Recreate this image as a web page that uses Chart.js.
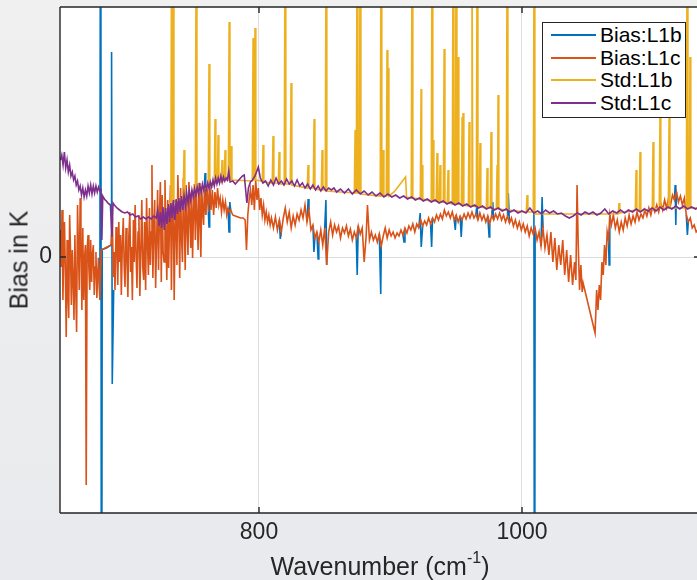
<!DOCTYPE html>
<html>
<head>
<meta charset="utf-8">
<script src="https://cdn.jsdelivr.net/npm/chart.js@4.4.1/dist/chart.umd.min.js"></script>
<style>
  html, body { margin:0; padding:0; }
  body { width:697px; height:580px; overflow:hidden; background: linear-gradient(#f0f0f0, #e9eaed); font-family: "Liberation Sans", Arial, sans-serif; }
  #wrap { position:relative; width:700px; height:580px; }
  #c { position:absolute; left:0; top:0; }
  #ylabel { position:absolute; left:19px; top:260px; transform: translate(-50%,-50%) rotate(-90deg); white-space:nowrap; font-size:25px; line-height:25px; color:#262626; }
  #xlabel { position:absolute; left:60px; width:640px; top:554px; text-align:center; font-size:25px; line-height:25px; color:#262626; white-space:nowrap; }
  #xlabel sup { font-size:16px; line-height:0; vertical-align:12px; }
  #legend { position:absolute; left:542px; top:22px; width:144px; height:96px; box-sizing:border-box; border:1px solid #262626; background:#fff; }
  .row { position:absolute; left:0; height:22px; width:142px; }
  .row .ln { position:absolute; left:8px; top:10px; width:45px; height:2px; }
  .row .tx { position:absolute; left:57px; top:0; line-height:22px; font-size:21px; color:#000; white-space:nowrap; }
</style>
</head>
<body>
<div id="wrap">
  <canvas id="c" width="700" height="580"></canvas>
  <div id="ylabel">Bias in K</div>
  <div id="xlabel">Wavenumber (cm<sup>-1</sup>)</div>
  <div id="legend"></div>
</div>
<script>
// ---------------- data (wavenumber in cm-1, values in K) ----------------
const xTicks = [800, 1000];
const yTicks = [0];
const xRange = [648.67, 1135.4];
const yRange = [-2.56, 2.5];

const seriesLabels = ["Bias:L1b", "Bias:L1c", "Std:L1b", "Std:L1c"];
const seriesColors = ["#0072BD", "#D95319", "#EDB120", "#7E2F8E"];

// Bias:L1b (visible only where it departs from Bias:L1c; null = break)
const biasL1bWn = [678,679,679.6,680.2,680.8,684,687.5,687.9,688.4,689.5,700,
  758.5,759,759.5,760,761.5,762,762.5,763,776.5,777.2,777.8,778.5,779,
  815.5,816.2,817,818,836.5,837.4,838,839,841,841.8,842.5,843,844,845,845.5,846,
  850,850.9,851.5,852,874,874.7,875.5,876,891.5,892.6,893,894,909.5,910.3,911,912,
  921.5,922.6,923.4,924.5,925,930.5,931.3,932,933,948.5,949.3,950,951,953,953.8,954.5,955,
  965,965.8,966.5,967,974,975,975.5,976,977,977.8,978.5,979,989,989.6,990.5,991,
  1008.5,1009.1,1009.6,1010,1011,1014.5,1015.3,1016,1017,1065.8,1066.3,1066.8,1067,
  1116,1116.5,1117,1117.5,1118,1125,1125.8,1126.5];
const biasL1bVal = [-0.01,-0.43,6.0,-6.0,0.075,0.09,0.12,2.05,-1.27,-0.33,null,
  0.72,0.84,0.42,null,0.45,0.30,0.74,null,0.49,0.25,0.55,0.47,null,
  0.37,0.18,0.25,null,0.35,0.58,0.47,null,0.32,0.05,0.19,null,0.25,-0.02,0.15,null,
  0.29,0.57,-0.08,null,0.19,-0.18,0.31,null,0.23,-0.37,0.11,null,0.22,0.15,0.29,null,
  0.29,0.44,0.10,0.31,null,0.33,0.10,0.39,null,0.37,0.27,0.42,null,0.41,0.20,0.37,null,
  0.43,0.52,0.37,null,0.41,0.20,0.33,null,0.42,0.55,0.37,null,0.41,0.64,0.34,null,
  0.23,0.44,-6.0,0.29,null,0.11,0.60,0.29,null,0.17,-0.08,0.42,null,
  0.57,0.72,0.32,0.65,null,0.42,0.22,0.35];

// Bias:L1c
const biasL1cWn = [649,649.6,650.2,650.9,651.5,652.1,652.8,653.4,654.1,654.7,655.3,656,656.6,657.3,658,658.6,659.3,660,
  660.6,661.3,662,662.6,663.3,664,664.6,665.3,666,666.7,667.4,668,668.6,669.3,670,670.6,671.3,672,672.7,673.3,674,
  674.7,675.4,676,676.7,677.4,678,679,680,687.5,
  688.5,689.2,689.8,690.5,691.3,692,692.6,693.4,694,694.7,695.3,696.1,696.8,697.5,698.1,698.9,699.6,700.3,701,701.8,
  702.4,703,703.7,704.5,705.1,705.8,706.5,707.2,708,708.7,709.4,710.2,710.9,711.6,712.3,713,713.8,714.5,715.2,715.9,
  716.7,717.4,718.1,718.6,719.3,720,720.7,721.4,722.2,722.9,723.6,724.3,725,725.7,726.4,727.1,727.8,728.5,729.2,729.9,
  730.6,731.3,732,732.7,733.4,734.1,734.8,735.5,736.2,736.9,737.6,738.3,739,739.7,740.4,741.1,741.8,742.5,743.2,743.9,
  744.6,745.3,746,746.7,747.4,748.1,748.8,749.5,750.2,750.9,751.6,752.3,753,753.7,754.4,755.1,755.8,756.5,757.2,757.9,
  758.5,759.5,760.5,761.5,762.5,763.5,764.5,765.5,766.5,767.5,768.5,769.5,
  770.5,771.5,772.5,773.5,774.5,775.5,776.5,777.5,778.5,780,782,784,786,788,789.5,790.5,791.5,792.5,793.5,794.5,
  795.5,796.5,797.5,798.5,799.5,800.5,801.5,802.5,803.5,804.5,805.5,806.5,807.5,808.5,809.5,811,812.5,814,815.5,
  817,818.5,820,821.5,823,824.5,826,827.5,829,830.5,832,833.5,835,836.5,838,839.5,841,842.5,844,845.5,847,848.5,
  850,851.5,853,854.5,856,857.5,859,860.5,862,863.5,865,866.5,868,869.5,871,872.5,874,875.5,877,878.5,880,881.5,
  882.5,884,885.5,887,888.5,890,891.5,893,894.5,896,897.5,899,900.5,902,903.5,905,906.5,908,909.5,911,912.5,914,
  915.5,917,918.5,920,921.5,923,924.5,926,927.5,929,930.5,932,933.5,935,936.5,938,939.5,941,942.5,944,945.5,947,
  948.5,950,951.5,953,954.5,956,957.5,959,960.5,962,963.5,965,966.5,968,969.5,971,972.5,974,975.5,977,978.5,980,
  981.5,983,984.5,986,987.5,989,990.5,992,993.5,995,996.5,998,999.5,1001,1002.5,1004,1005.5,1007,1008.5,1010,
  1011.5,1013,1014.5,1016,1017.5,1019,1020.5,1022,1023.5,1025,1026.5,1028,1029.5,1031,1032.5,1034,1035.5,1037,
  1038.5,1040,1041,1041.9,1042.8,1043.8,1044.8,1045.8,1046.5,1055.6,1056.8,1057.8,1058.8,1059.8,1060.8,1061.8,
  1062.8,1063.8,1064.8,1065.8,1066.8,1068,1069.5,1071,1072.5,1074,1075.5,1077,1078.5,1080,1081.5,1083,1084.5,
  1086,1087.5,1089,1090.5,1092,1093.5,1095,1096.5,1098,1099.5,1101,1102.5,1104,1105.5,1107,1108.5,1110,1111.5,
  1113,1114.5,1116,1117.5,1119,1120.5,1122,1123.5,1125,1126.5,1128,1129.5,1131,1132.5,1134];
const biasL1cVal = [0.27,-0.10,0.47,-0.43,0.05,0.35,-0.20,-0.80,0.17,-0.35,-0.61,0.42,0.10,-0.48,0.07,-0.20,-0.63,0.22,
  -0.30,-0.75,0.52,0.15,-0.33,0.59,0.20,-0.53,0.29,-0.43,0.00,0.12,-2.28,0.07,0.22,-0.10,-0.33,0.17,-0.25,0.02,0.12,
  -0.38,-0.10,0.05,-0.41,-0.15,-0.01,-0.43,0.07,0.12,
  0.39,-0.20,0.05,-0.33,0.30,0.10,-0.28,0.35,-0.05,0.22,-0.38,0.15,0.39,-0.10,-0.30,0.29,0.00,-0.40,0.20,0.45,
  -0.15,0.10,-0.43,0.37,-0.05,0.52,0.05,-0.31,0.25,0.42,-0.39,0.10,0.57,-0.10,-0.23,0.35,-0.33,0.59,0.15,-0.18,
  0.49,-0.08,0.25,0.92,-0.21,0.30,0.57,-0.31,0.20,0.67,-0.13,0.40,0.75,-0.25,0.62,0.05,-0.05,0.77,0.20,-0.23,
  0.57,-0.11,0.35,0.72,-0.33,0.45,0.62,-0.43,0.30,0.52,-0.08,0.82,0.40,-0.21,0.69,0.20,-0.05,0.79,0.35,-0.13,
  0.72,0.30,0.02,0.75,0.40,0.09,0.67,-0.01,0.45,0.73,0.17,0.71,0.40,0.07,0.74,0.35,0.00,0.67,0.45,0.32,
  0.72,0.42,0.69,0.45,0.74,0.47,0.67,0.42,0.65,0.49,0.69,0.52,
  0.59,0.45,0.57,0.47,0.55,0.42,0.49,0.45,0.47,0.42,0.41,0.40,0.39,0.39,0.37,0.07,0.42,0.57,0.67,0.52,
  0.72,0.47,0.77,0.57,0.69,0.47,0.59,0.42,0.52,0.37,0.45,0.35,0.42,0.32,0.39,0.29,0.40,0.27,0.37,
  0.25,0.39,0.49,0.35,0.45,0.29,0.41,0.32,0.43,0.37,0.47,0.39,0.52,0.35,0.47,0.27,0.32,0.19,0.25,0.15,0.27,0.12,
  0.29,-0.08,0.25,0.35,0.22,0.32,0.25,0.31,0.19,0.29,0.24,0.31,0.21,0.28,0.17,0.25,0.19,0.31,0.23,0.29,-0.05,0.21,
  0.52,0.17,0.25,0.17,0.22,0.15,0.23,0.11,0.21,0.29,0.19,0.27,0.21,0.25,0.19,0.24,0.21,0.27,0.22,0.29,0.24,0.31,
  0.27,0.33,0.25,0.33,0.29,0.37,0.31,0.36,0.32,0.39,0.33,0.39,0.35,0.42,0.37,0.43,0.38,0.47,0.41,0.45,0.39,0.45,
  0.37,0.42,0.35,0.41,0.37,0.43,0.38,0.44,0.39,0.45,0.39,0.43,0.37,0.44,0.37,0.42,0.35,0.41,0.33,0.42,0.37,0.43,
  0.38,0.44,0.37,0.42,0.35,0.41,0.34,0.39,0.31,0.37,0.29,0.35,0.27,0.33,0.25,0.31,0.21,0.29,0.23,0.29,
  0.17,0.25,0.11,0.29,0.09,0.22,0.02,0.25,-0.05,0.19,-0.13,0.12,-0.08,0.17,-0.18,0.07,-0.25,0.02,
  -0.28,-0.05,-0.23,0.72,0.12,-0.33,-0.08,-0.35,-0.26,-0.76,-0.33,-0.53,-0.28,-0.43,-0.05,-0.18,
  0.12,-0.08,0.25,0.17,0.42,0.32,0.42,0.29,0.37,0.25,0.35,0.27,0.39,0.31,0.42,0.33,0.41,
  0.35,0.45,0.37,0.43,0.39,0.47,0.41,0.49,0.42,0.51,0.45,0.52,0.45,0.54,0.47,0.57,0.49,0.59,
  0.52,0.62,0.57,0.65,0.55,0.61,0.52,0.59,0.42,0.35,0.39,0.29,0.32,0.25,0.27];

// Std:L1b
const stdL1bWn = [730,733,733.5,734.1,734.7,735.3,742.4,743,743.6,751.6,752.2,752.8,761.4,762,762.6,766,766.6,767.2,
  768.3,768.9,769.5,771.3,771.9,772.5,773.6,774.2,774.8,776.7,777.3,777.9,778.3,778.8,779.4,794.9,795.5,796.1,
  796.4,797,797.6,802.5,803.1,803.7,810.1,810.7,811.3,814.7,815.3,815.9,819.2,819.8,820.4,823.8,824.4,825,
  836.7,837.3,837.9,841.3,841.9,842.5,847.4,848,848.6,850.4,851,851.6,872.5,873.1,873.7,874,874.6,875.2,
  876.3,876.9,877.5,892.2,892.8,893.4,893.8,894.4,895,896.8,897.4,898,898.2,898.8,902.7,911.5,912.2,
  915.8,916.4,917,922.7,923.3,923.7,924,924.6,931,931.6,932.2,932.4,933,934.8,935.4,936,937.1,937.7,938.3,
  940.2,940.8,941.4,943.2,943.8,944.4,947,947.6,948.2,949.3,949.9,950.5,950.8,951.4,952,953.9,954.5,954.9,
  955.2,955.8,959.2,959.8,960.4,961.4,962,962.6,965.3,965.9,966.5,967.5,968.1,968.7,972.9,973.5,974.1,
  975.9,976.5,977.1,980.5,981.1,981.5,981.8,982.4,988.1,988.7,989.3,1003.3,1003.9,1004.5,1008.6,1009.2,1009.8,
  1073.2,1073.8,1074.4,1086.2,1086.8,1087.4,1089.2,1089.8,1090.4,1099.1,1099.7,1100.3,1104.4,1105,1105.6,
  1111.3,1111.9,1112.5,1125,1125.6,1126.2,1127.2,1127.8,1128.4,1135];
const stdL1bVal = [0.50,0.55,3.2,0.55,3.2,0.55,0.60,1.07,0.60,0.63,3.2,0.64,0.70,1.93,0.71,0.73,1.38,0.74,
  0.74,1.22,0.75,0.75,0.97,0.76,0.76,1.07,0.77,0.77,2.35,0.78,0.78,1.11,0.77,0.76,2.19,0.77,
  0.77,2.29,0.77,0.76,1.12,0.75,0.74,1.21,0.74,0.74,1.05,0.73,0.73,3.2,0.73,0.73,1.74,0.72,
  0.69,0.92,0.69,0.69,1.38,0.68,0.67,1.07,0.67,0.67,3.2,0.66,0.64,1.27,0.64,0.64,3.2,0.64,
  0.64,3.2,0.63,0.61,3.2,0.61,0.61,1.07,0.61,0.61,2.07,0.61,1.89,0.61,0.65,0.80,0.60,
  0.59,3.2,0.59,0.58,1.68,0.58,0.92,0.58,0.56,3.2,0.56,1.17,0.56,0.56,1.04,0.56,0.55,0.92,0.55,
  0.55,2.08,0.55,0.54,0.87,0.54,0.53,3.2,0.53,0.53,3.2,0.53,0.53,2.00,0.53,0.52,1.40,0.52,
  1.44,0.52,0.51,1.35,0.51,0.51,3.2,0.51,0.50,3.2,0.50,0.50,1.14,0.50,0.49,0.89,0.49,
  0.49,1.25,0.48,0.48,0.92,0.48,1.62,0.48,0.47,3.2,0.47,0.45,0.62,0.45,0.45,3.2,0.43,
  0.43,0.54,0.44,0.47,0.87,0.47,0.46,1.05,0.46,0.48,1.15,0.48,0.49,1.47,0.49,
  0.49,1.39,0.49,0.49,3.2,0.49,0.49,2.00,0.49,0.49];

// Std:L1c
const stdL1cWn = [649,650,651,652,653,654,655,656,657,658,659,660,661,662,663,664,665,666,667,668,669,670,671,672,673,
  674,675,676,677,678,679,679.8,680.5,681.2,682,683,684,685,686,687,688.2,689,690,692,694,696,698,700,702,704,706,
  708,710,712,714,716,718,720,722,723,724,725,726,727,728,729,730,731,732,733,734,735,736,737,738,739,740,741,742,
  743,744,745,746,747,748,749,750,751,752,753,754,755,756,757,758,759,760,761,762,763,764,765,766,767,768,769,770,
  771,772,773,774,775,776,777,778,780,782,784,786,787.5,788.8,790.8,792,793.5,795,797,799.5,801,803,805,807,809,811,
  813,815,817,819,821,823,825,827,829,831,833,835,837,839,841,843,845,847,849,851,853,855,857,859,862,865,868,871,
  874,877,880,883,886,889,892,895,898,901,904,907,910,913,916,919,922,925,928,931,934,937,940,943,946,949,952,955,
  958,961,964,967,970,973,976,979,982,985,988,991,994,997,1000,1003,1006,1009,1012,1015,1018,1021,1024,1027,1030,
  1033,1036,1039,1042,1045,1048,1051,1054,1057,1060,1063,1066,1069,1072,1075,1078,1081,1084,1087,1090,1093,1096,
  1099,1102,1105,1108,1111,1114,1117,1120,1123,1126,1129,1132,1135];
const stdL1cVal = [0.97,1.02,0.92,1.05,0.89,0.97,0.85,0.92,0.81,0.85,0.77,0.81,0.72,0.76,0.67,0.71,0.62,0.69,0.60,0.67,0.61,0.71,0.64,0.72,0.63,
  0.71,0.64,0.71,0.65,0.70,0.66,0.67,0.17,0.61,0.59,0.57,0.56,0.54,0.53,0.52,0.20,0.54,0.52,0.49,0.47,0.45,0.44,0.45,0.42,0.43,0.40,
  0.41,0.38,0.40,0.38,0.40,0.38,0.41,0.39,0.47,0.31,0.45,0.29,0.50,0.27,0.49,0.33,0.53,0.35,0.54,0.39,0.57,0.37,0.58,0.43,0.59,0.45,0.61,0.47,
  0.62,0.51,0.64,0.54,0.66,0.57,0.67,0.60,0.68,0.62,0.70,0.63,0.71,0.65,0.73,0.67,0.73,0.68,0.74,0.69,0.75,0.70,0.77,0.71,0.79,0.73,0.79,0.74,
  0.81,0.75,0.80,0.76,0.79,0.77,0.86,0.75,0.76,0.73,0.76,0.79,0.81,0.82,0.54,0.69,0.75,0.77,0.81,0.90,0.79,0.74,0.76,0.71,0.77,0.72,
  0.79,0.73,0.76,0.72,0.78,0.73,0.76,0.71,0.77,0.71,0.74,0.69,0.73,0.68,0.72,0.67,0.71,0.66,0.70,0.66,0.69,0.67,0.69,0.65,0.68,0.64,0.68,0.63,
  0.67,0.63,0.66,0.62,0.65,0.61,0.64,0.60,0.63,0.60,0.62,0.59,0.61,0.58,0.60,0.57,0.59,0.56,0.58,0.55,0.57,0.54,0.56,0.53,0.55,0.52,0.54,0.51,
  0.53,0.50,0.52,0.49,0.51,0.48,0.50,0.47,0.49,0.46,0.48,0.45,0.47,0.44,0.46,0.44,0.49,0.44,0.46,0.43,0.47,0.44,0.46,0.43,0.44,
  0.41,0.39,0.41,0.44,0.42,0.45,0.43,0.45,0.42,0.44,0.48,0.43,0.46,0.44,0.47,0.44,0.47,0.45,0.48,0.45,0.48,0.46,
  0.49,0.46,0.50,0.47,0.50,0.48,0.51,0.48,0.51,0.48,0.50,0.48,0.50];

// ---------------- chart ----------------
function pairs(wn, val) { return wn.map((x, i) => ({ x: x, y: val[i] })); }

const seriesData = [
  pairs(biasL1bWn, biasL1bVal),
  pairs(biasL1cWn, biasL1cVal),
  pairs(stdL1bWn, stdL1bVal),
  pairs(stdL1cWn, stdL1cVal)
];

const datasets = seriesLabels.map((lab, i) => ({
  label: lab,
  data: seriesData[i],
  borderColor: seriesColors[i],
  backgroundColor: seriesColors[i],
  borderWidth: 1.6,
  pointRadius: 0,
  tension: 0,
  fill: false,
  spanGaps: false,
  order: 4 - i
}));

const plotBg = {
  id: 'plotBg',
  beforeDraw(chart) {
    const a = chart.chartArea, ctx = chart.ctx;
    ctx.save(); ctx.fillStyle = '#ffffff';
    ctx.fillRect(a.left, a.top, a.right - a.left, a.bottom - a.top);
    ctx.restore();
  }
};

const axesBox = {
  id: 'axesBox',
  afterDatasetsDraw(chart) {
    const a = chart.chartArea, ctx = chart.ctx, sx = chart.scales.x, sy = chart.scales.y;
    ctx.save();
    ctx.strokeStyle = '#262626';
    ctx.lineWidth = 1.4;
    ctx.beginPath();
    ctx.moveTo(a.left, a.top); ctx.lineTo(a.right, a.top);
    ctx.moveTo(a.left, a.bottom); ctx.lineTo(a.right, a.bottom);
    ctx.moveTo(a.left, a.top); ctx.lineTo(a.left, a.bottom);
    ctx.moveTo(a.right, a.top); ctx.lineTo(a.right, a.bottom);
    xTicks.forEach(v => {
      const p = Math.round(sx.getPixelForValue(v));
      ctx.moveTo(p, a.bottom); ctx.lineTo(p, a.bottom - 6);
      ctx.moveTo(p, a.top); ctx.lineTo(p, a.top + 6);
    });
    yTicks.forEach(v => {
      const p = Math.round(sy.getPixelForValue(v));
      ctx.moveTo(a.left, p); ctx.lineTo(a.left + 6, p);
      ctx.moveTo(a.right, p); ctx.lineTo(a.right - 6, p);
    });
    ctx.stroke();
    ctx.restore();
  }
};

const tickFont = { family: '"Liberation Sans", Arial, sans-serif', size: 23 };

const chart = new Chart(document.getElementById('c'), {
  type: 'line',
  data: { datasets: datasets },
  options: {
    responsive: false,
    animation: false,
    devicePixelRatio: 1,
    events: [],
    layout: { padding: { top: 7, left: 0, right: 0, bottom: 0 } },
    plugins: { legend: { display: false }, tooltip: { enabled: false } },
    scales: {
      x: {
        type: 'linear',
        min: xRange[0], max: xRange[1],
        afterBuildTicks: s => { s.ticks = xTicks.map(v => ({ value: v })); },
        afterFit: s => { s.height = 67; s.paddingLeft = 0; s.paddingRight = 0; },
        grid: { color: '#dedede', lineWidth: 1, drawTicks: false },
        border: { display: false },
        ticks: { padding: 6, color: '#262626', font: tickFont, maxRotation: 0, autoSkip: false,
                 callback: v => String(v) }
      },
      y: {
        type: 'linear',
        min: yRange[0], max: yRange[1],
        afterBuildTicks: s => { s.ticks = yTicks.map(v => ({ value: v })); },
        afterFit: s => { s.width = 60; s.paddingTop = 0; s.paddingBottom = 0; },
        grid: { color: '#dedede', lineWidth: 1, drawTicks: false },
        border: { display: false },
        ticks: { padding: 8, color: '#262626', font: tickFont, callback: v => String(v) }
      }
    }
  },
  plugins: [plotBg, axesBox]
});

// HTML legend built from the chart's datasets
const legend = document.getElementById('legend');
chart.data.datasets.forEach((ds, i) => {
  const row = document.createElement('div');
  row.className = 'row';
  row.style.top = (1 + i * 22.7) + 'px';
  const ln = document.createElement('div');
  ln.className = 'ln';
  ln.style.background = ds.borderColor;
  const tx = document.createElement('div');
  tx.className = 'tx';
  tx.textContent = ds.label;
  row.appendChild(ln); row.appendChild(tx);
  legend.appendChild(row);
});
</script>
</body>
</html>
